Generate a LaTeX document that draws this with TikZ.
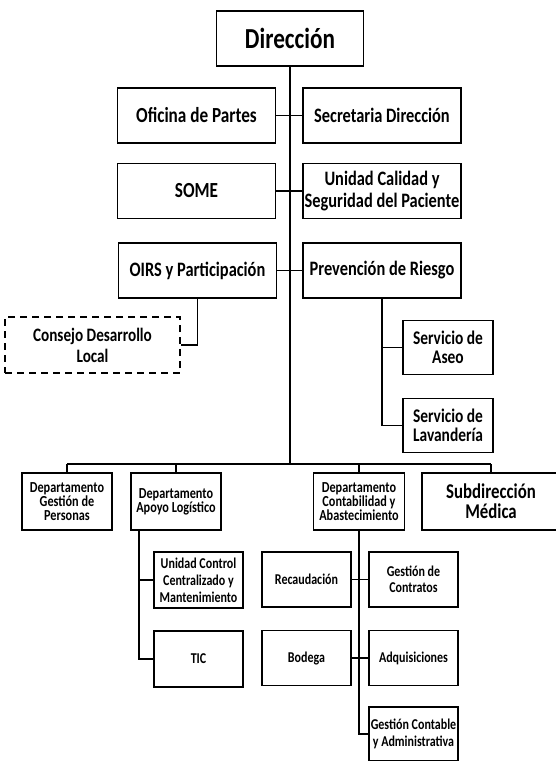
\documentclass[tikz,border=0pt]{standalone}
\usepackage{fontspec}
\setmainfont{Carlito}[FakeStretch=0.8]
\usetikzlibrary{positioning,calc}

\begin{document}
\begin{tikzpicture}[x=1pt,y=-1pt,
    box/.style={draw,line width=1.8pt,align=center,inner sep=0pt,minimum width=158pt,minimum height=55pt,font=\bfseries\fontsize{20.5}{22}\selectfont},
    svc/.style={box,minimum width=90pt,minimum height=54pt,font=\bfseries\fontsize{19.3}{19.5}\selectfont},
    dept/.style={box,minimum width=90pt,minimum height=57pt,font=\bfseries\fontsize{15.3}{14}\selectfont},
    unit/.style={box,minimum width=89pt,minimum height=55pt,font=\bfseries\fontsize{15}{16.5}\selectfont},
    link/.style={line width=1.5pt}]
            \useasboundingbox (0, 0) rectangle (555, 761);
            \node [box,minimum width=147pt,font=\bfseries\fontsize{29}{30}\selectfont] (dir) at (290, 38.5) {Dirección};%
            \node [box,font=\bfseries\fontsize{21.5}{22}\selectfont] (ofi) at (196.5, 115.5) {Oficina de Partes};%
            \node [box] (sec) at (382, 115.5) {Secretaria Dirección};%
            \node [box,font=\bfseries\fontsize{21.5}{22}\selectfont] (some) at (196.5, 191) {SOME};%
            \node [box] (cal) at (382, 191) {Unidad Calidad y\\Seguridad del Paciente};%
            \node [box] (oirs) at (197.5, 270.5) {OIRS y Participación};%
            \node [box] (prev) at (382, 270.5) {Prevención de Riesgo};%
            \node [box,dash pattern=on 7pt off 5pt,minimum width=175pt,minimum height=56pt,font=\bfseries\fontsize{19}{21}\selectfont] (cons) at (92.5, 345) {Consejo Desarrollo\\Local};%
            \node [svc] (aseo) at (448, 347.5) {Servicio de\\Aseo};%
            \node [svc] (lav) at (448, 425.5) {Servicio de\\Lavandería};%
            % departamentos
            \node [dept] (dgp) at (67, 501.5) {Departamento\\Gestión de\\Personas};%
            \node [dept] (dal) at (176, 501.5) {Departamento\\Apoyo Logístico};%
            \node [dept,minimum width=91pt] (dca) at (359, 501.5) {Departamento\\Contabilidad y\\Abastecimiento};%
            \node [box,minimum width=138pt,minimum height=57pt,font=\bfseries\fontsize{21}{20}\selectfont] (sub) at (491, 501.5) {Subdirección\\Médica};%
            \node [unit,minimum height=56pt,font=\bfseries\fontsize{15}{17}\selectfont] (ucc) at (198.5, 580) {Unidad Control\\Centralizado y\\Mantenimiento};%
            \node [unit,minimum height=56pt] (tic) at (198.5, 659) {TIC};%
            \node [unit] (rec) at (306.5, 579.5) {Recaudación};%
            \node [unit] (ctr) at (413.5, 579.5) {Gestión de\\Contratos};%
            \node [unit] (bod) at (306.5, 658) {Bodega};%
            \node [unit] (adq) at (413.5, 658) {Adquisiciones};%
            \node [unit,minimum height=54pt] (gca) at (413.5, 734) {Gestión Contable\\y Administrativa};%
            \coordinate (bL) at (67, 464);
            \coordinate (bR) at (491, 464);
            \coordinate (dalx) at ([xshift=9pt]dal.south west);
            \draw [link] (dir.south) to (dir.south |- bL);
            \draw [link] (ofi.east) to (sec.west);
            \draw [link] (some.east) to (cal.west);
            \draw [link] (oirs.east) to (prev.west);
            \draw [link] (oirs.south) |- (cons.east);
            \draw [link] (prev.south) |- (lav.west);
            \draw [link] (prev.south |- aseo.west) to (aseo.west);
            \draw [link] (bL) to (bR);
            \draw [link] (bL) to (dgp.north);
            \draw [link] (dal.north |- bL) to (dal.north);
            \draw [link] (dca.north |- bL) to (dca.north);
            \draw [link] (bR) to (sub.north);
            \draw [link] (dalx) |- (tic.west);
            \draw [link] (dalx |- ucc.west) to (ucc.west);
            \draw [link] (dca.south) |- (gca.west);
            \draw [link] (rec.east) to (ctr.west);
            \draw [link] (bod.east) to (adq.west);
        \end{tikzpicture}
\end{document}
